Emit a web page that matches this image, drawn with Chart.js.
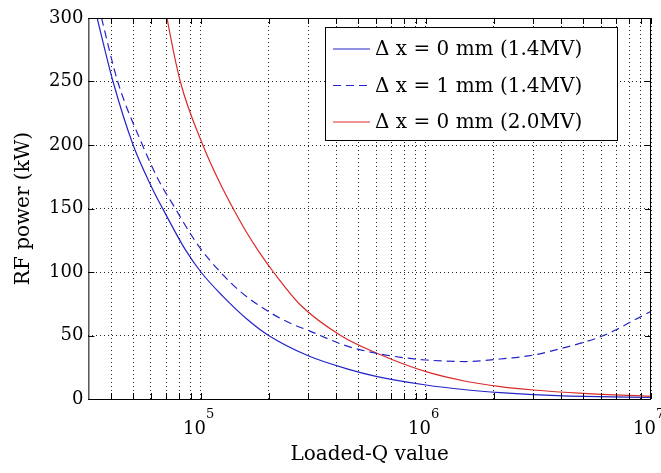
<!DOCTYPE html>
<html>
<head>
<meta charset="utf-8">
<script src="https://cdn.jsdelivr.net/npm/chart.js@4/dist/chart.umd.min.js"></script>
<style>
  body { margin: 0; background: #fff; }
</style>
</head>
<body>
<canvas id="myChart" width="661" height="473"></canvas>
<script>
// Δx = 0 mm, 1.4 MV (solid blue)
const qSolid = [3.3e4, 3.46e4, 4.07e4, 5.0e4, 6.0e4, 7.0e4, 8.5e4, 1.0e5, 1.25e5, 1.6e5, 2.0e5, 3.0e5, 4.5e5, 6.0e5, 1.0e6, 1.5e6, 2.14e6, 3.0e6, 5.0e6, 1.0e7];
const pSolid = [315, 300, 250, 200, 168, 145, 118, 100, 81, 63, 50, 34, 23.5, 17.8, 11, 7.3, 5, 3.5, 2.1, 1.2];

// Δx = 1 mm, 1.4 MV (dashed blue)
const qDashed = [3.4e4, 3.62e4, 4.27e4, 5.5e4, 6.5e4, 7.7e4, 8.85e4, 1.0e5, 1.22e5, 1.5e5, 2.0e5, 2.5e5, 3.0e5, 4.4e5, 6.0e5, 8.0e5, 1.0e6, 1.5e6, 2.14e6, 3.0e6, 4.0e6, 5.0e6, 6.0e6, 7.0e6, 8.0e6, 1.0e7];
const pDashed = [320, 300, 250, 200, 172, 150, 132, 118, 100, 84.5, 68.8, 59.6, 54, 42, 36, 32.5, 30.7, 29.5, 31.5, 34.6, 39.8, 44.5, 49.2, 54.5, 60, 69];

// Δx = 0 mm, 2.0 MV (solid red)
const qRed = [6.8e4, 7.07e4, 8.1e4, 1.02e5, 1.2e5, 1.43e5, 1.58e5, 1.81e5, 2.1e5, 2.77e5, 4.18e5, 6.17e5, 1.0e6, 1.5e6, 2.14e6, 3.0e6, 5.0e6, 1.0e7];
const pRed = [318, 300, 250, 200, 172, 146, 132.5, 116, 100, 74, 50, 35.4, 21.5, 14, 9.8, 7.1, 4.5, 2.2];

const seriesLabels = ["Δ x = 0 mm (1.4MV)", "Δ x = 1 mm (1.4MV)", "Δ x = 0 mm (2.0MV)"];

// grid positions on the log axis and the labelled decades
const gridQ = [4e4, 5e4, 6e4, 7e4, 8e4, 9e4, 1e5, 2e5, 3e5, 4e5, 5e5, 6e5, 7e5, 8e5, 9e5, 1e6, 2e6, 3e6, 4e6, 5e6, 6e6, 7e6, 8e6, 9e6, 1e7];
const decadeExps = [5, 6, 7];
const yTicks = [0, 50, 100, 150, 200, 250, 300];

const serif = '"DejaVu Serif", serif';

function toPoints(qs, ps) {
  return qs.map((q, i) => ({ x: q, y: ps[i] }));
}

const matlabAxes = {
  id: "matlabAxes",
  afterDraw(chart) {
    const { ctx, chartArea: a, scales } = chart;
    const x = scales.x;
    const y = scales.y;
    ctx.save();

    // axes box
    ctx.strokeStyle = "#000";
    ctx.lineWidth = 1;
    ctx.strokeRect(a.left + 0.5, a.top + 0.5, a.right - a.left - 1, a.bottom - a.top);

    // inward tick marks
    ctx.beginPath();
    gridQ.forEach((v) => {
      const px = Math.round(x.getPixelForValue(v)) + 0.5;
      ctx.moveTo(px, a.bottom);
      ctx.lineTo(px, a.bottom - 6);
      ctx.moveTo(px, a.top);
      ctx.lineTo(px, a.top + 6);
    });
    yTicks.forEach((v) => {
      const py = Math.round(y.getPixelForValue(v)) + 0.5;
      ctx.moveTo(a.left, py);
      ctx.lineTo(a.left + 6, py);
      ctx.moveTo(a.right, py);
      ctx.lineTo(a.right - 6, py);
    });
    ctx.stroke();

    // x tick labels as 10 with superscript
    ctx.fillStyle = "#000";
    ctx.textBaseline = "alphabetic";
    decadeExps.forEach((e) => {
      const px = x.getPixelForValue(Math.pow(10, e));
      ctx.font = "18px " + serif;
      ctx.textAlign = "right";
      ctx.fillText("10", px + 5, a.bottom + 35);
      ctx.font = "13px " + serif;
      ctx.textAlign = "left";
      ctx.fillText(String(e), px + 5, a.bottom + 19);
    });

    // legend box in the upper right
    const bx = a.right - 326, by = a.top + 9, bw = 292, bh = 113;
    ctx.fillStyle = "#fff";
    ctx.fillRect(bx, by, bw, bh);
    ctx.strokeRect(bx + 0.5, by + 0.5, bw, bh);
    ctx.font = "20px " + serif;
    ctx.textAlign = "left";
    ctx.textBaseline = "middle";
    chart.data.datasets.forEach((ds, i) => {
      const ry = by + 22 + i * 36.5;
      ctx.strokeStyle = ds.borderColor;
      ctx.lineWidth = ds.borderWidth;
      ctx.setLineDash(ds.borderDash || []);
      ctx.beginPath();
      ctx.moveTo(bx + 8, ry);
      ctx.lineTo(bx + 45, ry);
      ctx.stroke();
      ctx.setLineDash([]);
      ctx.fillStyle = "#000";
      ctx.fillText(ds.label, bx + 50, ry + 1);
    });

    ctx.restore();
  },
};

const ctx = document.getElementById("myChart");

new Chart(ctx, {
  type: "line",
  data: {
    datasets: [
      {
        label: seriesLabels[0],
        data: toPoints(qSolid, pSolid),
        borderColor: "#2424c8",
        borderWidth: 1.2,
        pointRadius: 0,
        cubicInterpolationMode: "monotone",
      },
      {
        label: seriesLabels[1],
        data: toPoints(qDashed, pDashed),
        borderColor: "#2424c8",
        borderWidth: 1.2,
        borderDash: [8, 5],
        pointRadius: 0,
        cubicInterpolationMode: "monotone",
      },
      {
        label: seriesLabels[2],
        data: toPoints(qRed, pRed),
        borderColor: "#dc2a2a",
        borderWidth: 1.2,
        pointRadius: 0,
        cubicInterpolationMode: "monotone",
      },
    ],
  },
  options: {
    responsive: false,
    animation: false,
    devicePixelRatio: 1,
    layout: { padding: { left: 12, right: 10, top: 18, bottom: 0 } },
    plugins: {
      legend: { display: false },
      tooltip: { enabled: false },
    },
    scales: {
      x: {
        type: "logarithmic",
        min: 31623,
        max: 1e7,
        afterBuildTicks: (scale) => {
          scale.ticks = gridQ.map((v) => ({ value: v }));
        },
        ticks: { display: false },
        grid: { color: "#222", lineWidth: 1, drawTicks: false },
        border: { display: false, dash: [1, 3] },
        title: {
          display: true,
          text: "Loaded-Q value",
          color: "#000",
          font: { family: serif, size: 20 },
          padding: { top: 44, bottom: 6 },
        },
      },
      y: {
        min: 0,
        max: 300,
        ticks: {
          stepSize: 50,
          color: "#000",
          padding: 5,
          font: { family: serif, size: 18 },
        },
        grid: { color: "#222", lineWidth: 1, drawTicks: false },
        border: { display: false, dash: [1, 3] },
        title: {
          display: true,
          text: "RF power (kW)",
          color: "#000",
          font: { family: serif, size: 20 },
          padding: { top: 0, bottom: 8 },
        },
      },
    },
  },
  plugins: [matlabAxes],
});
</script>
</body>
</html>
